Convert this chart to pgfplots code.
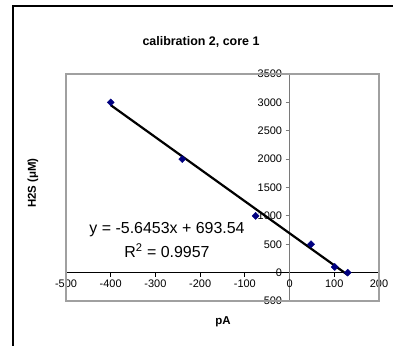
\documentclass[border=0pt]{standalone}
\usepackage{fontspec}
\setmainfont{Liberation Sans}
\usepackage{pgfplots}
\pgfplotsset{compat=1.18}
\definecolor{navy}{HTML}{000080}
\definecolor{boxgray}{HTML}{A0A0A0}
\definecolor{axgray}{HTML}{7A7A7A}
\begin{document}
\begin{tikzpicture}[x=1bp,y=1bp]
\path[use as bounding box] (0,0) rectangle (394,-346);
\draw[line width=1.3bp] (13,-346) -- (13,-6) -- (393,-6);
\node[font=\bfseries\fontsize{12.5}{14}\selectfont] at (201,-42) {calibration 2, core 1};
\node[font=\bfseries\fontsize{11.5}{13}\selectfont] at (223,-322) {pA};
\node[font=\bfseries\fontsize{11.5}{13}\selectfont, rotate=90] at (33,-183) {H2S (μM)};
\begin{axis}[
 at={(66bp,-301bp)}, anchor=south west,
 scale only axis, width=313bp, height=227bp,
 xmin=-500,xmax=200,ymin=-500,ymax=3500,
 axis lines=middle,
 axis line style={-},
 x axis line style={black, line width=0.8bp},
 y axis line style={axgray, line width=1.6bp},
 xtick={-500,-400,...,200},
 ytick={-500,0,...,3500},
 hide obscured x ticks=false, hide obscured y ticks=false,
 tick align=outside,
 major tick length=4bp,
 x tick style={black, line width=0.8bp},
 y tick style={axgray, line width=0.9bp},
 ticklabel style={font=\fontsize{11}{12}\selectfont},
 /pgf/number format/assume math mode=true,
 /pgf/number format/1000 sep={},
 clip=false,
]
\draw[boxgray, line width=1.3bp] (rel axis cs:0,0) rectangle (rel axis cs:1,1);
\addplot[black, line width=2.2bp] coordinates {(-400,2951.66) (130,-40.35)};
\addplot[only marks, mark=square*, mark size=2.5bp, mark options={rotate=45, draw=navy, fill=navy}]
 coordinates {(-400,3000) (-240,2000) (-76,1000) (48,500) (101,100) (130,0)};
\end{axis}
\node[font=\fontsize{16}{18}\selectfont] at (167,-230) {y = -5.6453x + 693.54};
\node[font=\fontsize{16}{18}\selectfont] at (167,-251) {R\textsuperscript{2} = 0.9957};
\end{tikzpicture}
\end{document}
